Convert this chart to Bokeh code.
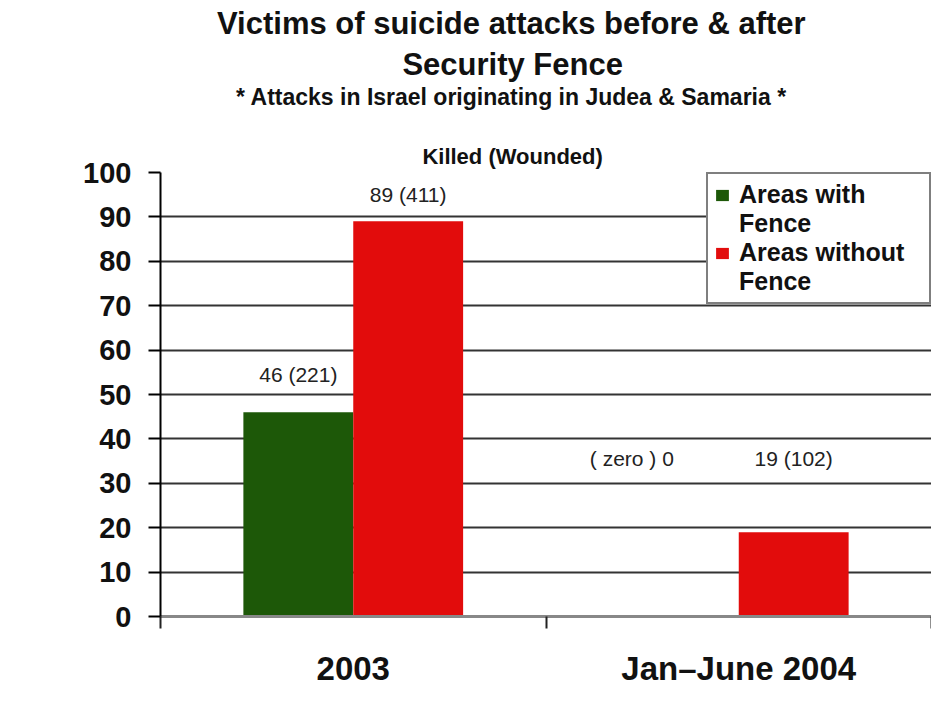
from bokeh.plotting import figure
from bokeh.models import (ColumnDataSource, Range1d, FixedTicker, SingleIntervalTicker,
                          Title, Legend, LegendItem)
from bokeh.core.properties import value
from bokeh.embed import file_html
from bokeh.resources import INLINE

# ---- data ----
categories = ["2003", "Jan\u2013June 2004"]
legend_lines = [["Areas with", "Fence"], ["Areas without", "Fence"]]
with_fence = [46, 0]
without_fence = [89, 19]
labels_with = ["46 (221)", "( zero ) 0"]
labels_without = ["89 (411)", "19 (102)"]
label_y_with = [54.6, 35.5]
label_y_without = [95.0, 35.5]
y_ticks = list(range(0, 101, 10))
title_lines = ["Victims of suicide attacks before & after", "Security Fence"]
subtitle = "* Attacks in Israel originating in Judea & Samaria *"
unit_note = "Killed (Wounded)"

GREEN = "#1d5808"
RED = "#e20c0c"
FONT = "Liberation Sans"

idx = list(range(len(categories)))
centers = [i + 0.5 for i in idx]
bar_w = 0.285
off = 0.1425

src_with = ColumnDataSource(dict(x=[c - off for c in centers], top=with_fence,
                                 ly=label_y_with, lab=labels_with,
                                 xo=[0, -52]))
src_without = ColumnDataSource(dict(x=[c + off for c in centers], top=without_fence,
                                    ly=label_y_without, lab=labels_without,
                                    xo=[0, 0]))

p = figure(width=931, height=700, output_backend="svg", toolbar_location=None,
           x_range=Range1d(0, len(categories)), y_range=Range1d(0, 100),
           min_border_left=160, min_border_right=0, min_border_bottom=84,
           min_border_top=0,
           background_fill_color="white", border_fill_color="white")
p.outline_line_color = None

r1 = p.vbar(x="x", top="top", width=bar_w, source=src_with, fill_color=GREEN, line_color=None)
r2 = p.vbar(x="x", top="top", width=bar_w, source=src_without, fill_color=RED, line_color=None)
r_blank = p.vbar(x=[], top=[], width=bar_w, fill_alpha=0, line_alpha=0)

for s in (src_with, src_without):
    p.text(x="x", y="ly", text="lab", source=s, x_offset="xo",
           text_align="center", text_baseline="middle",
           text_font=value(FONT), text_font_size="21px", text_color="#222222")

# grid
p.xgrid.grid_line_color = None
p.ygrid.grid_line_color = "#333333"
p.ygrid.grid_line_width = 2
p.ygrid.ticker = SingleIntervalTicker(interval=10)

# y axis
p.yaxis.ticker = FixedTicker(ticks=y_ticks)
p.yaxis.axis_line_color = "black"
p.yaxis.axis_line_width = 2
p.yaxis.major_tick_out = 12
p.yaxis.major_tick_in = 0
p.yaxis.major_tick_line_width = 2
p.yaxis.minor_tick_line_color = None
p.yaxis.major_label_text_font = FONT
p.yaxis.major_label_text_font_style = "bold"
p.yaxis.major_label_text_font_size = "29px"
p.yaxis.major_label_text_color = "#111111"
p.yaxis.major_label_standoff = 17

# x axis
p.xaxis.ticker = FixedTicker(ticks=centers, minor_ticks=[0, 1, 2])
p.xaxis.major_label_overrides = {c: cat for c, cat in zip(centers, categories)}
p.xaxis.axis_line_color = "#888888"
p.xaxis.axis_line_width = 3
p.xaxis.major_tick_line_color = None
p.xaxis.minor_tick_out = 12
p.xaxis.minor_tick_in = 0
p.xaxis.minor_tick_line_color = "#222222"
p.xaxis.minor_tick_line_width = 2
p.xaxis.major_label_text_font = FONT
p.xaxis.major_label_text_font_style = "bold"
p.xaxis.major_label_text_font_size = "33px"
p.xaxis.major_label_text_color = "#111111"
p.xaxis.major_label_standoff = 21

# title block: stacked Titles, left-aligned with an offset so that each
# line is centred at the same point as in the original (351 px from frame left)
CENTER_FROM_FRAME_LEFT = 351
# approximate rendered width per px of font size (Liberation Sans Bold)
def add_title(text, size_px, em_width, standoff):
    w = em_width * size_px
    p.add_layout(Title(text=text, align="left", offset=CENTER_FROM_FRAME_LEFT - w / 2,
                       text_font=FONT, text_font_style="bold",
                       text_font_size=f"{size_px}px", text_color="#111111",
                       standoff=standoff), "above")

add_title(unit_note, 22, 8.1, 7)
p.add_layout(Title(text=" ", text_font_size="24px", standoff=0), "above")  # spacer
add_title(subtitle, 23, 23.95, 0)
add_title(title_lines[1], 31, 7.04, 0)
add_title(title_lines[0], 31, 19.0, 7)

legend = Legend(items=[LegendItem(label=legend_lines[0][0], renderers=[r1]),
                       LegendItem(label=legend_lines[0][1], renderers=[r_blank]),
                       LegendItem(label=legend_lines[1][0], renderers=[r2]),
                       LegendItem(label=legend_lines[1][1], renderers=[r_blank])],
                location="top_right")
legend.label_text_font = FONT
legend.label_text_font_style = "bold"
legend.label_text_font_size = "25px"
legend.label_text_color = "#111111"
legend.label_height = 28
legend.label_width = 184
legend.glyph_width = 16
legend.glyph_height = 14
legend.label_standoff = 9
legend.padding = 6
legend.spacing = 0
legend.margin = 0
legend.border_line_color = "black"
legend.border_line_width = 2
legend.background_fill_color = "white"
legend.background_fill_alpha = 1
p.add_layout(legend)

open("out.html", "w").write(file_html(p, INLINE))
